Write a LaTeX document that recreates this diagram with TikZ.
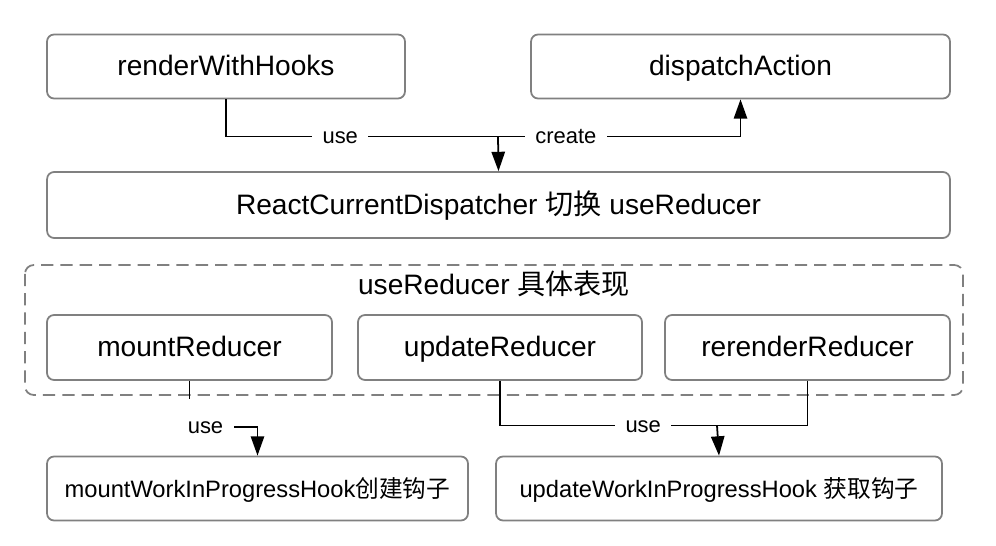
\documentclass[tikz,border=0pt]{standalone}
\usepackage{fontspec}
\setmainfont{Liberation Sans}
\newfontfamily\cjk{Noto Sans CJK SC}
\usetikzlibrary{arrows.meta}
\definecolor{boxgray}{HTML}{808080}
\begin{document}
\begin{tikzpicture}[x=0.02cm, y=-0.02cm,
  box/.style={draw=boxgray, line width=1pt, rounded corners=4pt, minimum height=1.28cm, text height=1.25em, text depth=0.22em, font=\fontsize{16}{19}\selectfont},
  hookbox/.style={box, font=\fontsize{13.5}{16}\selectfont},
  lbl/.style={fill=white, inner xsep=6pt, inner ysep=1pt, text height=1.0em, text depth=0.22em, font=\fontsize{12.5}{15}\selectfont},
  link/.style={line width=1pt},
  arr/.style={link, -{Triangle[length=11pt, width=7.6pt]}}]
\useasboundingbox (0,0) rectangle (996,546);
% top row
\node[box, minimum width=7.16cm] (renderHooks) at (226,66.5) {renderWithHooks};
\node[box, minimum width=8.38cm] (dispatch) at (740.5,66.5) {dispatchAction};
\node[box, minimum width=18.06cm, minimum height=1.32cm] (dispatcher) at (498.5,205) {ReactCurrentDispatcher {\cjk 切换} useReducer};
% useReducer group
\draw[boxgray, line width=1pt, dashed, dash pattern=on 7pt off 4pt, rounded corners=5pt] (25,265) rectangle (963,395);
\node[font=\fontsize{16}{19}\selectfont] (groupTitle) at (494,284) {useReducer {\cjk 具体表现}};
\node[box, minimum width=5.7cm, minimum height=1.3cm] (mountRed) at (189.5,347.5) {mountReducer};
\node[box, minimum width=5.68cm, minimum height=1.3cm] (updateRed) at (500,347.5) {updateReducer};
\node[box, minimum width=5.7cm, minimum height=1.3cm] (rerenderRed) at (807.5,347.5) {rerenderReducer};
% hooks
\node[hookbox, minimum width=8.42cm] (mountHook) at (257.5,488.5) {mountWorkInProgressHook{\cjk 创建钩子}};
\node[hookbox, minimum width=8.92cm] (updateHook) at (719,488.5) {updateWorkInProgressHook {\cjk 获取钩子}};
% connectors
\coordinate (topJoin) at (498,136.5);
\coordinate (botJoin) at (717,425.5);
\draw[link] (renderHooks.south) |- node[lbl, pos=0.71]{use} (topJoin);
\draw[arr] (topJoin) -- (dispatcher.north);
\draw[arr] (topJoin) -| node[lbl, pos=0.14]{create} (dispatch.south);
\draw[link] (mountRed.south) -- ++(0,18);
\node[lbl, inner ysep=0pt] (mountUse) at (205.5,427) {use};
\draw[arr] (mountUse.east) -| (mountHook.north);
\draw[link] (updateRed.south) |- node[lbl, pos=0.83]{use} (botJoin);
\draw[link] (rerenderRed.south) |- (botJoin);
\draw[arr] (botJoin) -- (updateHook.north);
\end{tikzpicture}
\end{document}
